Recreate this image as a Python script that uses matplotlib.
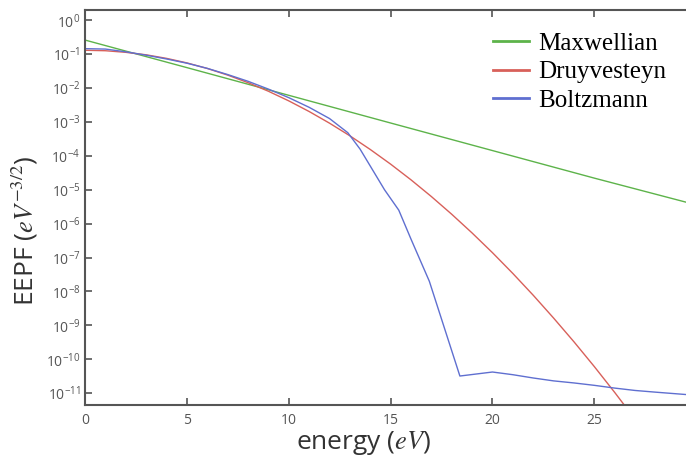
import matplotlib
matplotlib.use('Agg')
import matplotlib.pyplot as plt
import numpy as np

plt.rcParams['font.family'] = ['Open Sans', 'DejaVu Sans']
plt.rcParams['mathtext.fontset'] = 'stix'

# energy grids (eV) and EEPF values
maxwell_e = [0, 5, 10, 15, 20, 25, 29.5]
maxwell_f = [2.6e-1, 4.0e-2, 6.1e-3, 9.3e-4, 1.43e-4, 2.2e-5, 4.3e-6]

druy_e = list(range(0, 28))
druy_f = [1.30e-1, 1.26e-1, 1.13e-1, 9.55e-2, 7.50e-2, 5.51e-2, 3.78e-2,
          2.41e-2, 1.44e-2, 8.04e-3, 4.18e-3, 2.03e-3, 9.2e-4, 3.90e-4,
          1.54e-4, 5.69e-5, 1.96e-5, 6.30e-6, 1.89e-6, 5.30e-7, 1.39e-7,
          3.39e-8, 7.73e-9, 1.64e-9, 3.27e-10, 6.07e-11, 1.05e-11, 1.70e-12]

boltz_e = [0, 1, 2, 3, 4, 5, 6, 7, 8, 9, 10, 11, 12, 12.9, 13.5, 14.1, 14.7,
           15.4, 16, 16.9, 18.4, 20, 21, 22, 23, 24, 25, 26, 27, 28, 29.5]
boltz_f = [1.45e-1, 1.41e-1, 1.17e-1, 9.3e-2, 7.2e-2, 5.4e-2, 3.8e-2, 2.5e-2,
           1.58e-2, 9.3e-3, 5.2e-3, 2.7e-3, 1.26e-3, 4.8e-4, 1.58e-4, 3.98e-5,
           1.0e-5, 2.5e-6, 3.5e-7, 2.0e-8, 3.2e-11, 4.2e-11, 3.5e-11,
           2.8e-11, 2.3e-11, 2.0e-11, 1.7e-11, 1.41e-11, 1.2e-11, 1.07e-11, 9.1e-12]

fig = plt.figure(figsize=(6.86, 4.65), dpi=100)
ax = fig.add_axes([0.124, 0.129, 0.876, 0.849])

ax.plot(maxwell_e, maxwell_f, color='#5db34a', lw=1.0, label='Maxwellian')
ax.plot(druy_e, druy_f, color='#d8605a', lw=1.0, label='Druyvesteyn')
ax.plot(boltz_e, boltz_f, color='#5f6fd0', lw=1.0, label='Boltzmann')

ax.set_yscale('log')
ax.set_xlim(0, 29.5)
ax.set_ylim(10 ** -11.35, 10 ** 0.295)
ax.set_yticks(10.0 ** np.arange(-11, 1))
ax.minorticks_off()
ax.set_xticks([0, 5, 10, 15, 20, 25])

for s in ['left', 'bottom', 'top']:
    ax.spines[s].set_color('#555555')
    ax.spines[s].set_linewidth(1.5)
ax.spines['right'].set_visible(False)
ax.tick_params(direction='in', length=5, width=1.2, color='#555555',
               labelcolor='#555555', labelsize=10, top=True)
ax.tick_params(axis='x', pad=6)

ax.set_xlabel('energy ($eV$)', fontsize=19, color='#333333')
ax.set_ylabel('EEPF ($eV^{-3/2}$)', fontsize=19, color='#333333')
ax.xaxis.set_label_coords(0.464, -0.062)
ax.yaxis.set_label_coords(-0.075, 0.44)

leg = ax.legend(loc='upper left', bbox_to_anchor=(0.701, 0.958),
                bbox_transform=fig.transFigure, frameon=False,
                prop={'family': 'Liberation Serif', 'size': 18},
                handlelength=1.44, handletextpad=0.36, labelspacing=0.25,
                borderpad=0)
for line in leg.get_lines():
    line.set_linewidth(2)

fig.savefig('out.png', dpi=100)
